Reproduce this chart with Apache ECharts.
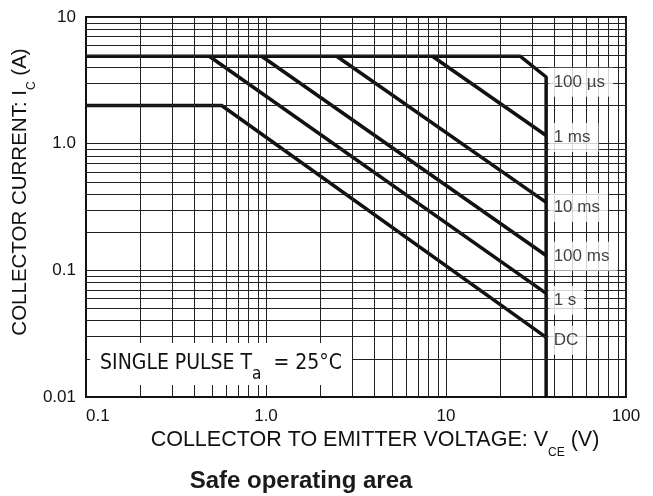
<!DOCTYPE html>
<html>
<head>
<meta charset="utf-8">
<script src="https://cdn.jsdelivr.net/npm/echarts@6/dist/echarts.min.js"></script>
<style>
  html, body { margin: 0; padding: 0; background: #fff; }
  #chart { width: 653px; height: 496px; }
</style>
</head>
<body>
<div id="chart"></div>
<script>
// Safe operating area of a transistor, log–log axes.

// Decade ticks and their printed labels
const vceTicks = [0.1, 1, 10, 100];
const vceTickLabels = ['0.1', '1.0', '10', '100'];
const icTicks = [0.01, 0.1, 1, 10];
const icTickLabels = ['0.01', '0.1', '1.0', '10'];

// Intermediate grid lines inside each decade
const vceGridLines = [0.2, 0.3, 0.4, 0.5, 0.6, 0.7, 0.8, 0.9,
                      2, 3, 4, 5, 6, 7, 8, 9,
                      20, 30, 40, 50, 60, 70, 80, 90];
const icGridLines = [0.02, 0.03, 0.04, 0.05, 0.06, 0.07, 0.08, 0.09,
                     0.2, 0.3, 0.4, 0.5, 0.6, 0.7, 0.8, 0.9,
                     2, 3, 4, 5, 6, 7, 8, 9];

// Limit curves as [VCE (V), IC (A)]
const curve100us = [[0.1, 4.9], [25.8, 4.9], [36, 3.36], [36, 0.01]];
const curve1ms   = [[8.4, 4.9], [36, 1.16]];
const curve10ms  = [[2.47, 4.9], [36, 0.344]];
const curve100ms = [[0.946, 4.9], [36, 0.131]];
const curve1s    = [[0.484, 4.9], [36, 0.0658]];
const curveDC    = [[0.1, 2], [0.567, 2], [36, 0.0296]];

// Curve names and where their tags sit along the VCE limit
const curveNames = ['100 µs', '1 ms', '10 ms', '100 ms', '1 s', 'DC'];
const tagVce = 36;
const tagIc = [3.05, 1.12, 0.314, 0.129, 0.058, 0.028];

const FONT = "'Liberation Sans', Arial, Helvetica, sans-serif";
const NARROW = "'Liberation Sans Narrow', 'Arial Narrow', 'DejaVu Sans Condensed', 'Liberation Sans', sans-serif";
const INK = '#111';
const TEXT = '#111';

function decadeLabel(ticks, labels) {
  return function (v) {
    const e = Math.round(Math.log10(v));
    for (let i = 0; i < ticks.length; i++) {
      if (Math.round(Math.log10(ticks[i])) === e) return labels[i];
    }
    return '';
  };
}

function curveSeries(name, data) {
  return {
    name: name,
    type: 'line',
    data: data,
    symbol: 'none',
    silent: true,
    z: 3,
    lineStyle: { color: INK, width: 3.5 },
    animation: false
  };
}

const chart = echarts.init(document.getElementById('chart'), null, { renderer: 'canvas' });

chart.setOption({
  animation: false,
  backgroundColor: '#fff',
  grid: {
    left: 86, right: 27, top: 17, bottom: 99,
    show: true, borderColor: INK, borderWidth: 2, backgroundColor: 'transparent'
  },
  xAxis: {
    type: 'log',
    logBase: 10,
    min: vceTicks[0],
    max: vceTicks[vceTicks.length - 1],
    axisLine: { show: true, lineStyle: { color: INK, width: 2 } },
    axisTick: { show: false },
    axisLabel: {
      formatter: decadeLabel(vceTicks, vceTickLabels),
      fontFamily: FONT, fontSize: 17, color: TEXT, margin: 11,
      alignMinLabel: 'left', alignMaxLabel: 'center'
    },
    splitLine: { show: true, lineStyle: { color: '#222', width: 1 } }
  },
  yAxis: {
    type: 'log',
    logBase: 10,
    min: icTicks[0],
    max: icTicks[icTicks.length - 1],
    axisLine: { show: true, lineStyle: { color: INK, width: 2 } },
    axisTick: { show: false },
    axisLabel: {
      formatter: decadeLabel(icTicks, icTickLabels),
      fontFamily: FONT, fontSize: 17, color: TEXT, margin: 10
    },
    splitLine: { show: true, lineStyle: { color: '#222', width: 1 } }
  },
  series: [
    {
      name: 'grid',
      type: 'line',
      data: [],
      silent: true,
      z: 1,
      markLine: {
        silent: true,
        symbol: 'none',
        animation: false,
        label: { show: false },
        emphasis: { disabled: true },
        lineStyle: { color: '#222', width: 1, type: 'solid' },
        data: vceGridLines.map(v => ({ xAxis: v }))
          .concat(icGridLines.map(v => ({ yAxis: v })))
      }
    },
    curveSeries('100 µs', curve100us),
    curveSeries('1 ms', curve1ms),
    curveSeries('10 ms', curve10ms),
    curveSeries('100 ms', curve100ms),
    curveSeries('1 s', curve1s),
    curveSeries('DC', curveDC),
    {
      name: 'tags',
      type: 'scatter',
      data: tagIc.map(v => [tagVce, v]),
      symbolSize: 1,
      itemStyle: { color: 'rgba(0,0,0,0)' },
      silent: true,
      z: 10,
      label: {
        show: true,
        position: 'right',
        distance: 2,
        formatter: p => curveNames[p.dataIndex],
        fontFamily: FONT,
        fontSize: 17,
        color: TEXT,
        backgroundColor: '#fff',
        padding: [6, 8, 6, 5]
      }
    }
  ],
  graphic: [
    {
      type: 'text',
      x: 20, y: 192,
      rotation: Math.PI / 2,
      z: 100,
      style: {
        text: '{m|COLLECTOR CURRENT: I}{s|C}{m| (A)}',
        align: 'center',
        verticalAlign: 'middle',
        fill: TEXT,
        rich: {
          m: { fontFamily: FONT, fontSize: 20.5, lineHeight: 36, fill: TEXT },
          s: { fontFamily: FONT, fontSize: 12, lineHeight: 12, verticalAlign: 'bottom', fill: TEXT }
        }
      }
    },
    {
      type: 'text',
      x: 375, y: 440,
      z: 100,
      style: {
        text: '{m|COLLECTOR TO EMITTER VOLTAGE: V}{s|CE}{m| (V)}',
        align: 'center',
        verticalAlign: 'middle',
        fill: TEXT,
        rich: {
          m: { fontFamily: FONT, fontSize: 21.5, lineHeight: 38, fill: TEXT },
          s: { fontFamily: FONT, fontSize: 12, lineHeight: 12, verticalAlign: 'bottom', fill: TEXT }
        }
      }
    },
    {
      type: 'text',
      x: 301, y: 481,
      z: 100,
      style: {
        text: 'Safe operating area',
        align: 'center',
        verticalAlign: 'middle',
        fill: '#1a1a1a',
        font: "bold 24px 'Liberation Sans', Arial, sans-serif"
      }
    },
    {
      type: 'text',
      x: 221, y: 364,
      z: 100,
      style: {
        text: '{m|SINGLE PULSE T}{s|a}{m|  = 25°C}',
        align: 'center',
        verticalAlign: 'middle',
        fill: TEXT,
        backgroundColor: '#fff',
        padding: [2, 10, 2, 10],
        rich: {
          m: { fontFamily: NARROW, fontSize: 21, lineHeight: 38, fill: TEXT },
          s: { fontFamily: NARROW, fontSize: 17, lineHeight: 17, verticalAlign: 'bottom', fill: TEXT }
        }
      }
    }
  ]
});
</script>
</body>
</html>
